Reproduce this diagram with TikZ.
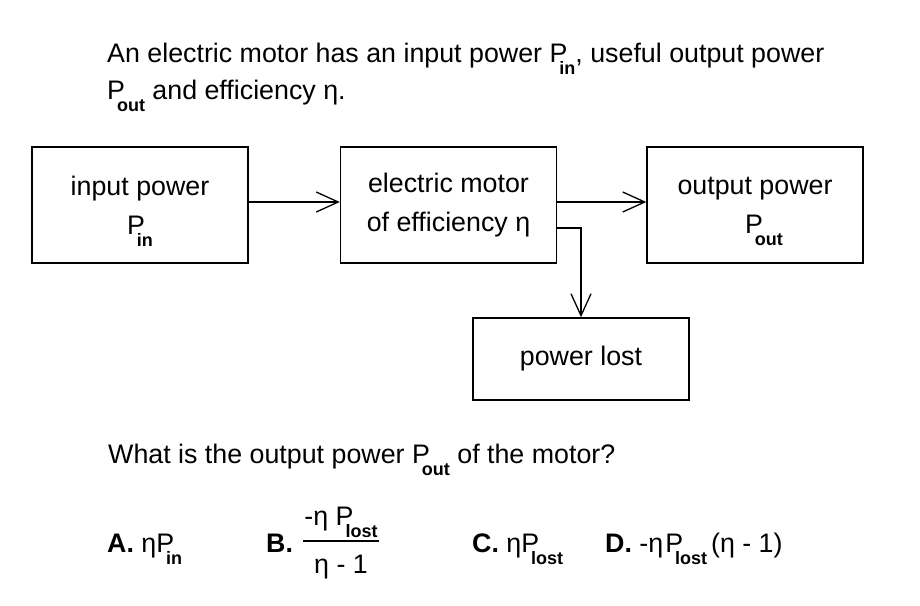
\documentclass[tikz,border=0pt]{standalone}
\usepackage{fontspec}
\setmainfont{Liberation Sans}
\usetikzlibrary{arrows.meta}
% P with a bold lowered index
\newcommand\Psub[1]{P\kern-0.3em\raisebox{-0.45em}[0pt][0pt]{\fontsize{18pt}{18pt}\selectfont\bfseries #1}}
\begin{document}
\begin{tikzpicture}[x=1pt, y=-1pt,
      font=\fontsize{26.8pt}{39pt}\selectfont,
      box/.style={rectangle, draw, line width=1.4pt,
                  minimum width=216pt, minimum height=116pt,
                  align=center, inner sep=0pt},
      txt/.style={anchor=base west, inner sep=0pt},
      arrow/.style={-{Straight Barb[length=22pt, width=20pt]}, line width=1.3pt}
    ]
    \useasboundingbox (0,0) rectangle (920,605);
    \node[txt] (intro1) at (107,62) {An electric motor has an input power \Psub{in}, useful output power};
    \node[txt] (intro2) at (107,99) {\Psub{out} and efficiency η.};
    \node[box] (inp)   at (140,205)   {input power\\\Psub{in}};
    \node[box] (motor) at (448.5,205) {electric motor\\of efficiency η};
    \node[box] (outp)  at (755,205)   {output power\\\hspace*{18pt}\Psub{out}};
    \node[box, minimum height=82pt] (lost) at (581,359) {power lost};
    \draw[arrow] ([yshift=3]inp.east)   -- ([yshift=3]motor.west);
    \draw[arrow] ([yshift=3]motor.east) -- ([yshift=3]outp.west);
    \draw[arrow] ([yshift=-23]motor.east) -| (lost.north);
    \node[txt] (quest) at (108,463) {What is the output power \Psub{out} of the motor?};
    \node[txt] (ansA) at (107,552) {\textbf{A.} η\Psub{in}};
    \node[txt] (ansB) at (266,552) {\textbf{B.}};
    \node[txt, anchor=base] (numB) at (341,525) {-η \Psub{lost}};
    \node[txt, anchor=base] (denB) at (341,573) {η - 1};
    \draw[line width=1.3pt] (303,541) -- (379,541);
    \node[txt] (ansC) at (472,552) {\textbf{C.} η\Psub{lost}};
    \node[txt] (ansD) at (605,552) {\textbf{D.} -η\kern2pt\Psub{lost}\kern4pt(η - 1)};
\end{tikzpicture}
\end{document}
